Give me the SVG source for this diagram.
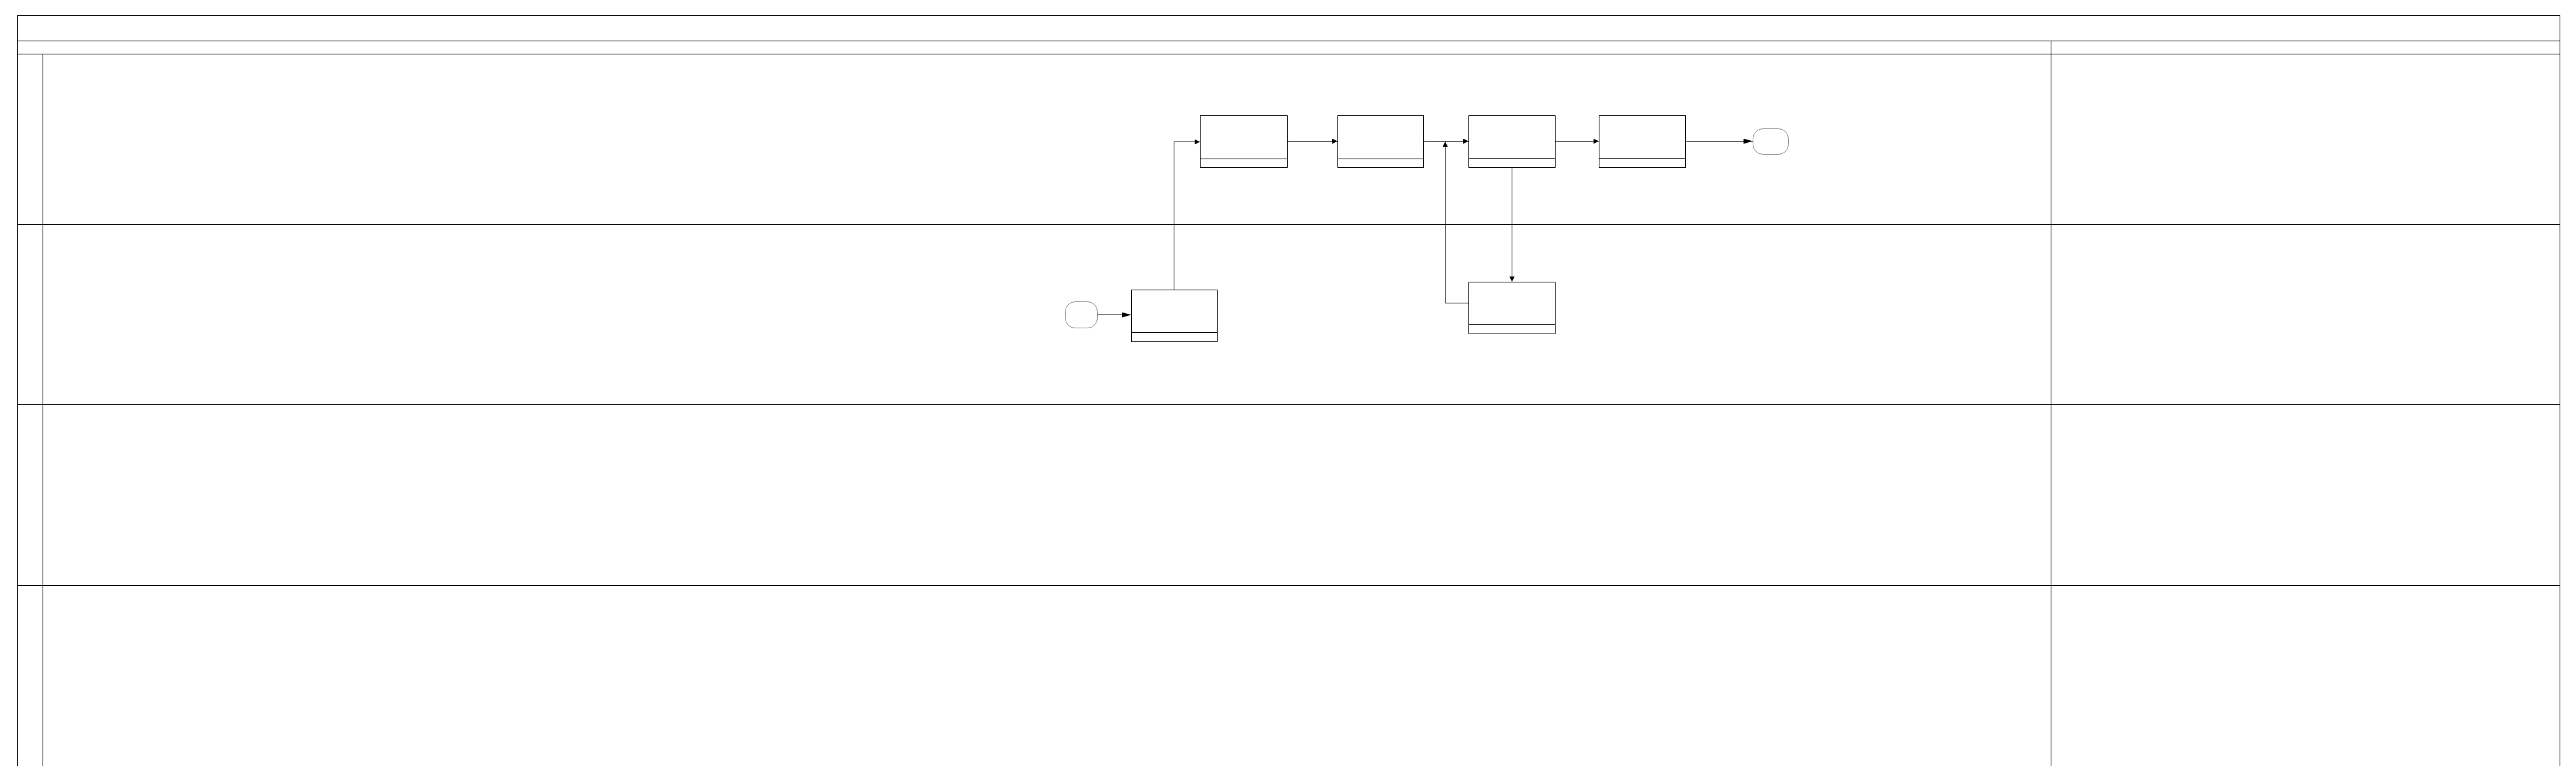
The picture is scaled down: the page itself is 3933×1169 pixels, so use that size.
<svg xmlns="http://www.w3.org/2000/svg" width="3933" height="1169" viewBox="0 0 3933 1169">
<style>
.frame{fill:none;stroke:#000;stroke-width:1}
.node rect,.node line{fill:#fff;stroke:#000;stroke-width:1}
.node rect.term{fill:#fff;stroke:#888;stroke-width:1}
.conn{fill:none;stroke:#000;stroke-width:1}
</style>
<defs>
<marker id="arr" markerUnits="userSpaceOnUse" markerWidth="9" markerHeight="9" refX="8" refY="4" orient="auto"><path d="M0,0 L8,4 L0,8 z" fill="#000"/></marker>
<marker id="arrBig" markerUnits="userSpaceOnUse" markerWidth="15" markerHeight="9" refX="14" refY="4" orient="auto"><path d="M0,0 L14,4 L0,8 z" fill="#000"/></marker>
</defs>
<rect width="3933" height="1169" fill="#fff"/>
<g id="pool">
<path class="frame" d="M26.5,1169 V23.5 H3908.5 V1169"/>
<line class="frame" x1="26.5" y1="62.5" x2="3908.5" y2="62.5"/>
<line class="frame" x1="26.5" y1="82.5" x2="3908.5" y2="82.5"/>
<line class="frame" x1="65.5" y1="82.5" x2="65.5" y2="1169"/>
<line class="frame" x1="3131.5" y1="62.5" x2="3131.5" y2="1169"/>
<line class="frame" x1="26.5" y1="342.5" x2="3908.5" y2="342.5"/>
<line class="frame" x1="26.5" y1="617.5" x2="3908.5" y2="617.5"/>
<line class="frame" x1="26.5" y1="893.5" x2="3908.5" y2="893.5"/>
</g>
<g id="connectors">
<path class="conn" d="M1676,480.5 H1727" marker-end="url(#arrBig)"/>
<path class="conn" d="M1792.5,442 V216.5 H1832" marker-end="url(#arr)"/>
<path class="conn" d="M1965,215.5 H2042" marker-end="url(#arr)"/>
<path class="conn" d="M2173,215.5 H2242" marker-end="url(#arr)"/>
<path class="conn" d="M2374,215.5 H2441" marker-end="url(#arr)"/>
<path class="conn" d="M2573,215.5 H2676" marker-end="url(#arrBig)"/>
<path class="conn" d="M2308.5,255 V430" marker-end="url(#arr)"/>
<path class="conn" d="M2242,462.5 H2206.5 V216" marker-end="url(#arr)"/>
</g>
<g id="start" class="node"><rect class="term" x="1626.5" y="460.5" width="49" height="40" rx="15"/></g>
<g id="taskS" class="node"><rect x="1727.5" y="442.5" width="131" height="79"/><line x1="1727.5" y1="507.5" x2="1858.5" y2="507.5"/></g>
<g id="taskA" class="node"><rect x="1832.5" y="176.5" width="133" height="79"/><line x1="1832.5" y1="242.5" x2="1965.5" y2="242.5"/></g>
<g id="taskB" class="node"><rect x="2042.5" y="176.5" width="131" height="79"/><line x1="2042.5" y1="242.5" x2="2173.5" y2="242.5"/></g>
<g id="taskC" class="node"><rect x="2242.5" y="176.5" width="132" height="79"/><line x1="2242.5" y1="241.5" x2="2374.5" y2="241.5"/></g>
<g id="taskD" class="node"><rect x="2441.5" y="176.5" width="132" height="79"/><line x1="2441.5" y1="241.5" x2="2573.5" y2="241.5"/></g>
<g id="taskE" class="node"><rect x="2242.5" y="430.5" width="132" height="79"/><line x1="2242.5" y1="495.5" x2="2374.5" y2="495.5"/></g>
<g id="end" class="node"><rect class="term" x="2676.5" y="196.5" width="54" height="39" rx="15"/></g>
</svg>
